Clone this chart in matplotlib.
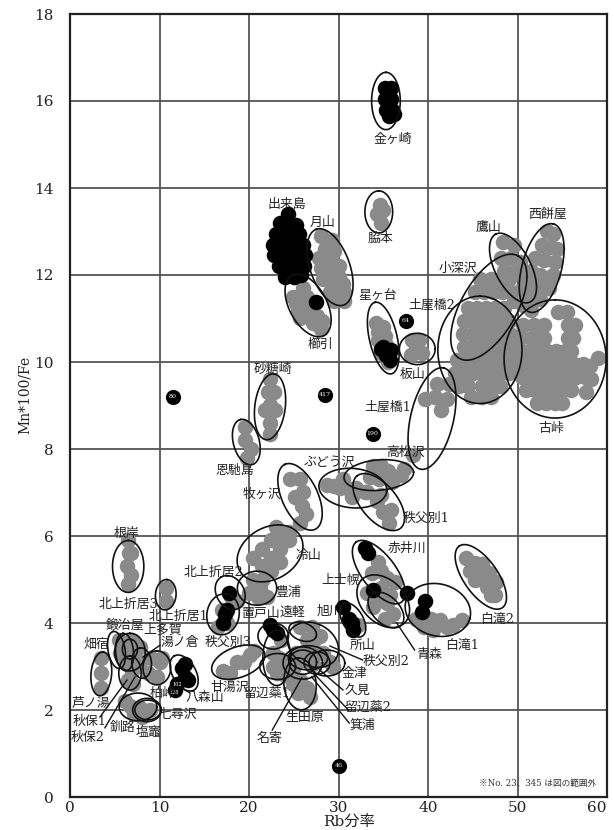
import numpy as np
import matplotlib
matplotlib.use('Agg')
import matplotlib.pyplot as plt

plt.rcParams['font.family'] = ['DejaVu Serif', 'Noto Sans CJK JP']

GRAY = '#8a8a8a'

# gray points read per source area (Rb ratio, Mn*100/Fe)
furutoge = [(54.5, 11.15), (55.5, 11.15),
            (50.6, 10.85), (51.8, 10.85), (53, 10.85), (55.6, 10.85), (56.4, 10.85),
            (50.3, 10.55), (51.5, 10.55), (52.6, 10.55), (53, 10.55), (55.6, 10.55), (56.2, 10.55),
            (50.3, 10.25), (51.3, 10.25), (52.3, 10.25), (53.3, 10.25), (54.3, 10.25), (55.3, 10.25), (56, 10.25),
            (50.3, 9.95), (51.3, 9.95), (52.3, 9.95), (53.3, 9.95), (54.3, 9.95), (55.3, 9.95), (56.3, 9.95), (57.3, 9.95),
            (50.5, 9.65), (51.5, 9.65), (52.5, 9.65), (53.5, 9.65), (54.5, 9.65), (55.5, 9.65), (56.5, 9.65), (57.5, 9.65), (58.2, 9.6),
            (51, 9.35), (52, 9.35), (53, 9.35), (54, 9.35), (55, 9.35), (56, 9.35), (57.6, 9.3),
            (52.2, 9.05), (53.2, 9.05), (54.2, 9.05), (55, 9.05), (59, 10.1), (58.1, 9.9)]
tsuchiyabashi2 = [(44.5, 11.25), (45.5, 11.25), (46.5, 11.25), (47.5, 11.25), (48.5, 11.25),
                  (44, 10.95), (45, 10.95), (46, 10.95), (47, 10.95), (48, 10.95), (49, 10.95),
                  (43.9, 10.65), (45, 10.65), (46, 10.65), (47, 10.65), (48, 10.65), (49.2, 10.65),
                  (44, 10.35), (45, 10.35), (46, 10.35), (47, 10.35), (48, 10.35), (49, 10.35), (50, 10.35),
                  (43.2, 10.05), (44.2, 10.05), (45.2, 10.05), (46.2, 10.05), (47.2, 10.05), (48.2, 10.05), (49.2, 10.05), (50, 10.05),
                  (43, 9.75), (44, 9.75), (45, 9.75), (46, 9.75), (47, 9.75), (48, 9.75), (49, 9.75),
                  (43.5, 9.45), (44.5, 9.45), (46, 9.45), (47, 9.45), (48, 9.45), (44.8, 9.2), (46, 9.2), (47, 9.2)]
kobukazawa = [(45.8, 11.9), (47, 11.9), (48, 11.9), (49, 11.9), (45.3, 11.6), (46.3, 11.6), (47.3, 11.6), (48.3, 11.6), (49.3, 11.6)]
takayama = [(48.4, 12.75), (49.6, 12.7), (48.2, 12.4), (49.3, 12.4), (50.3, 12.3), (48.5, 12.1), (49.5, 12.05), (50.5, 12),
            (50.4, 11.65), (51.2, 11.5), (49.6, 11.4), (50.6, 11.3), (51.5, 11.2)]
nishimochiya = [(53.3, 13.0), (54, 12.95), (52.7, 12.7), (53.7, 12.65), (54.4, 12.6), (52, 12.4), (53, 12.35), (54.2, 12.3),
                (51.5, 12.1), (52.5, 12), (54, 12), (53.6, 11.9), (51.5, 11.8), (52.5, 11.7), (53.5, 11.7), (52.5, 11.45)]
tsuchiyabashi1 = [(41, 9.5), (39.7, 9.15), (42.1, 9.15), (41.5, 8.9), (42.4, 9.5), (40.8, 9.2), (38.3, 7.86)]
gassan = [(28, 12.9), (29.3, 12.8), (27.8, 12.4), (29, 12.3), (30, 12.2), (28.3, 11.9), (29.5, 11.8), (30.5, 11.8), (29.5, 11.4), (30.6, 11.4),
          (28.5, 12.6), (29.5, 12.55), (28, 12.15), (29, 12.05), (30, 11.95), (30.6, 11.6), (29, 11.6)]
kushibiki = [(24.9, 11.5), (25.5, 11.2), (26.5, 11.5), (25.7, 11), (27.2, 10.9), (28, 10.75), (26.8, 11.15), (26, 11.7), (26.5, 11.3),
             (25.2, 11.35), (27.6, 11.05), (28.2, 10.95)]
hoshigadai = [(34.2, 10.9), (34.4, 10.5), (35.3, 10.4), (35, 10.8), (35.5, 10.0), (34.7, 10.2), (34.4, 10.7), (35.2, 10.6)]
itayama = [(38.7, 10.3), (38.2, 10.5), (39.3, 10.2), (38.1, 10.15), (39, 10.5)]
wakimoto = [(34.6, 13.6), (34.3, 13.4), (34.7, 13.2), (35, 13.5)]
satozaki = [(22.4, 9.6), (22.1, 9.3), (22.8, 9.3), (22.4, 9), (22.9, 8.9), (21.8, 8.9), (22.4, 8.6), (22.4, 8.35)]
onbashima = [(19.5, 8.5), (19.6, 8.2), (20.2, 8.0), (19.8, 7.8)]
makigasawa = [(24.6, 7.3), (25.7, 7.3), (25.1, 6.9), (26, 7), (26.4, 6.5), (25.7, 6.3), (25.9, 6.7)]
budozawa = [(28.7, 7.18), (30.2, 7.1), (31.5, 6.9), (32, 7.1), (30.5, 7.3), (33, 7.0), (29.5, 7.15), (31, 7.1)]
takamatsuzawa = [(33.9, 7.6), (35.5, 7.5), (37, 7.4), (34.5, 7.3), (36, 7.25), (37.3, 7.55), (34.8, 7.6), (33.5, 7.35)]
chichibubetsu1 = [(33.2, 7), (34.3, 6.8), (35, 6.55), (35.6, 6.3), (34.8, 6.95), (35.9, 6.6)]
nemuro = [(6.5, 5.9), (6.6, 5.6), (6.4, 5.3), (6.8, 5.1), (6.5, 4.9), (6.8, 5.6)]
kitakami3 = [(10.7, 4.8), (10.7, 4.5)]
hiyayama = [(20.5, 5.5), (21.5, 5.3), (22.5, 5.5), (23.5, 5.7), (24.5, 5.9), (23.5, 6.0), (22.5, 5.9), (21.5, 5.7), (21.5, 5), (22.5, 5.2), (23, 6.2), (24.5, 6.1), (23.5, 5.4)]
toyoura = [(20.5, 5), (21.5, 5), (21, 4.6), (22, 4.6), (20, 4.7), (21.2, 4.8)]
kitakami12 = [(17, 4.3), (18, 4.6), (18.7, 4.5), (16.5, 3.9), (17.5, 4)]
chichibubetsu3 = [(17.1, 2.9), (18.7, 3.1), (20.1, 3.26), (17.9, 2.85), (19.4, 3.1), (20.6, 3.35)]
rubeshibe1 = [(22.7, 3.3), (22.7, 3.0), (23.1, 2.85), (24.2, 3.1), (23.6, 3.6), (23.3, 3.2), (24, 2.8)]
asahikawa = [(25.7, 3.9), (27.9, 3.7), (28.3, 3.3), (26.5, 3.6), (27.6, 3.3), (25.2, 3.3), (27, 3.9), (27.3, 3.6), (26.4, 3.3)]
nayoro = [(24.9, 2.6), (26.8, 2.3), (25.7, 2.7), (24.3, 2.9), (26.5, 2.5), (25.5, 2.4)]
kanatsu = [(29.4, 3), (29, 3.1), (26, 3.15), (27.2, 3.05), (25, 3.0)]
ashinoyu = [(3.5, 3.2), (3.5, 2.85), (3.5, 2.5)]
west_group = [(5.9, 3.45), (6.9, 3.6), (5.6, 3.3), (7.8, 3.45), (6.5, 2.7), (7, 2.6), (10, 3.1), (9.7, 2.75), (8.7, 2.85), (10.3, 3.2),
              (7, 3.2), (6.3, 3.1), (7.8, 3.1), (9, 3.2), (6.9, 2.9), (5.5, 3.6), (7.3, 3.4)]
shiogama = [(6.7, 2.1), (7.8, 2.05), (8.9, 2), (7.2, 1.9), (6.2, 2.2), (8, 1.85)]
akaigawa = [(34.4, 5.4), (33.7, 5.15), (35.4, 5.03), (36.3, 4.94), (34.8, 5.2)]
kamishihoro = [(33.2, 4.7), (33.9, 4.37), (35.4, 4.45), (36.1, 4.2), (34.5, 4.6), (35.2, 4.1), (34.7, 4.8), (35.8, 4.65)]
shirataki1 = [(38.7, 4.1), (39.6, 3.9), (41.3, 4.07), (42.1, 3.9), (43.8, 4.07), (40.3, 4.1), (42.8, 3.95), (40.6, 3.85)]
shirataki2 = [(44.3, 5.5), (45.2, 5.37), (46, 5.1), (45.3, 5.0), (46.6, 4.83), (47.5, 4.64), (44.7, 5.2), (46.8, 5.15), (47.6, 4.95), (46, 5.35), (47, 4.65)]
tokoroyama = [(32.2, 3.95)]

gray_groups = [furutoge, tsuchiyabashi2, kobukazawa, takayama, nishimochiya, tsuchiyabashi1, gassan, kushibiki,
               hoshigadai, itayama, wakimoto, satozaki, onbashima, makigasawa, budozawa, takamatsuzawa,
               chichibubetsu1, nemuro, kitakami3, hiyayama, toyoura, kitakami12, chichibubetsu3, rubeshibe1,
               asahikawa, nayoro, kanatsu, ashinoyu, west_group, shiogama, akaigawa, kamishihoro,
               shirataki1, shirataki2, tokoroyama]

# black points
dekijima = [(24.4, 13.4), (23.5, 13.2), (24.5, 13.15), (25.3, 13.15), (23, 12.95), (23.9, 12.95), (24.8, 12.95), (25.6, 12.95),
            (22.7, 12.7), (23.6, 12.7), (24.5, 12.7), (25.4, 12.7), (26, 12.7), (22.8, 12.45), (23.7, 12.45), (24.7, 12.45), (25.6, 12.45), (26.3, 12.45),
            (23.4, 12.2), (24.3, 12.2), (25.2, 12.2), (26.2, 12.2), (24, 11.95), (25, 11.95), (25.8, 12.0)]
kanegasaki = [(35.2, 16.3), (35.9, 16.3), (35.2, 16.05), (35.9, 16.05), (35.3, 15.8), (36, 15.8), (35.6, 15.65), (36.2, 15.7)]
black_other = [(27.5, 11.38), (35, 10.35), (35.7, 10.05), (34.7, 10.3), (35.9, 10.27), (35.3, 10.15),
               (17.8, 4.7), (17.3, 4.2), (17.1, 4.0), (17.5, 4.3),
               (22.3, 3.95), (23.1, 3.77), (22.7, 3.85),
               (12.5, 2.97), (12.85, 2.76), (11.9, 2.6), (11.7, 2.45), (13.2, 2.7), (12.8, 3.05),
               (33, 5.72), (33.3, 5.6), (33.9, 4.76), (37.7, 4.7), (39.7, 4.5), (39.3, 4.25),
               (30.5, 4.37), (31.5, 4), (31.6, 3.84), (31.2, 4.1)]

# numbered samples
num_x = [11.5, 28.5, 33.8, 37.5, 30]
num_y = [9.2, 9.25, 8.35, 10.95, 0.72]
num_labels = ['80', '417', '190', '64', '46']

# ellipses: centre in data, semi axes in x units, angle on screen
ell_x = [35.3, 34.5, 29.05, 26.6, 35.0, 38.8, 40.45, 45.8, 54.2, 46.8, 49.5, 52.7, 22.35, 19.7, 25.7, 31.6, 34.5, 34.5,
         6.5, 10.7, 22.35, 20.9, 17.9, 17.1, 34.5, 35.0, 35.3, 41.1, 45.9, 31.6, 18.8, 23.1, 22.7, 25.7, 26.0, 27.15,
         23.2, 26.0, 27.6, 28.7, 26.0, 26.6, 3.5, 5.2, 6.1, 6.7, 8.0, 12.75, 9.7, 6.7, 7.6, 8.7, 8.6, 6.7]
ell_y = [16.0, 13.45, 12.18, 11.3, 10.55, 10.3, 8.7, 10.28, 10.07, 11.26, 12.16, 12.16, 8.97, 8.16, 6.9, 7.1, 7.4, 6.78,
         5.3, 4.65, 5.6, 4.8, 4.7, 4.2, 5.17, 4.5, 4.3, 4.3, 5.06, 4.07, 3.1, 3.2, 3.7, 2.6, 3.8, 3.5,
         3.0, 3.08, 3.08, 3.08, 3.1, 3.2, 2.83, 3.38, 3.33, 3.33, 3.08, 2.85, 2.97, 2.85, 2.07, 2.0, 2.0, 3.4]
ell_a = [3.2, 2.35, 4.5, 3.8, 4.1, 2.0, 5.8, 6.0, 6.6, 6.6, 4.25, 5.1, 3.7, 2.6, 4.0, 3.8, 3.9, 3.8,
         2.9, 1.7, 3.9, 2.2, 2.0, 2.3, 4.2, 3.4, 2.4, 3.7, 4.2, 2.1, 3.1, 3.1, 1.7, 2.9, 1.6, 3.0,
         2.0, 2.2, 1.45, 2.0, 1.55, 2.2, 2.45, 2.1, 2.1, 2.1, 1.7, 2.2, 1.9, 1.9, 2.1, 1.45, 1.6, 1.1]
ell_b = [1.6, 1.55, 2.2, 2.1, 1.55, 1.75, 2.4, 4.7, 5.7, 3.1, 2.0, 2.2, 1.7, 1.45, 2.0, 2.2, 1.7, 2.0,
         1.75, 1.15, 2.9, 1.9, 1.55, 1.8, 1.9, 2.4, 1.5, 2.9, 1.9, 1.15, 1.7, 1.55, 1.45, 1.8, 1.0, 2.35,
         1.45, 1.8, 1.25, 1.45, 1.35, 1.35, 1.15, 0.95, 1.0, 1.7, 1.1, 1.3, 1.55, 1.25, 1.55, 1.1, 1.3, 0.85]
ell_ang = [90, 90, 110, 118, 103, 0, 77, 90, 90, 60, 117, 75, 83, 105, 115, -5, 5, 130,
           90, 85, 30, 0, 120, 80, 127, 135, 135, -15, 125, 120, 20, 90, 0, 95, -20, -30,
           0, 0, 0, 0, 0, 0, 85, 100, 95, 90, 95, 120, 90, 90, 0, 0, 0, 90]

# leader lines, data coordinates
lead_x0 = [3.9, 3.35, 10.06, 13.4, 22.6, 32.7, 30.5, 31.1, 31.2, 38.5]
lead_y0 = [1.59, 1.84, 3.49, 2.39, 1.54, 3.15, 2.46, 2.0, 1.7, 3.38]
lead_x1 = [7.26, 6.37, 8.16, 12.3, 25.9, 29.05, 27.9, 27.2, 27.0, 36.5]
lead_y1 = [2.76, 2.69, 3.22, 2.53, 2.74, 3.47, 2.92, 2.85, 2.76, 4.0]

label_names = ['金ヶ崎', '脇本', '出来島', '月山', '櫛引', '星ヶ台', '土屋橋2', '鷹山', '西餅屋', '小深沢', '板山', '土屋橋1', '古峠',
               '砂糖崎', '恩馳島', '牧ヶ沢', 'ぶどう沢', '高松沢', '秩父別1', '根岸', '赤井川', '上士幌', '白滝2', '白滝1', '青森', '所山',
               '秩父別2', '金津', '久見', '留辺蘂2', '箕浦', '生田原', '名寄', '冷山', '豊浦', '北上折居2', '北上折居3', '北上折居1',
               '置戸山', '遠軽', '旭川', '鍛冶屋', '上多賀', '湯ノ倉', '秩父別3', '畑宿', '甘湯沢', '留辺蘂1', '柏峠', '八森山',
               '七尋沢', '塩竈', '釧路', '秋保1', '秋保2', '芦ノ湯']
label_px = [393, 380, 287, 323, 320, 378, 432, 488, 548, 458, 413, 388, 551,
            273, 235, 262, 329, 405, 426, 127, 407, 341, 497, 462, 429, 363,
            386, 354, 357, 368, 362, 305, 269, 308, 288, 213, 128, 178,
            260, 292, 330, 125, 163, 180, 228, 96, 230, 267, 162, 205,
            178, 148, 123, 90, 88, 91]
label_py = [139, 238, 204, 222, 344, 295, 305, 227, 214, 268, 374, 407, 428,
            369, 470, 494, 462, 452, 518, 533, 548, 580, 619, 645, 654, 645,
            661, 674, 690, 707, 725, 717, 738, 555, 592, 572, 604, 616,
            614, 612, 611, 625, 630, 642, 642, 644, 687, 693, 693, 697,
            714, 732, 727, 721, 737, 703]

x_ticks = [0, 10, 20, 30, 40, 50, 60]
y_ticks = [0, 2, 4, 6, 8, 10, 12, 14, 16, 18]


def draw_ellipse(ax, cx, cy, a, b, ang):
    # y is squeezed so the tilt is the one seen on the page
    t = np.linspace(0, 2 * np.pi, 120)
    th = np.radians(ang)
    x = cx + a * np.cos(t) * np.cos(th) - b * np.sin(t) * np.sin(th)
    y = cy + (a * np.cos(t) * np.sin(th) + b * np.sin(t) * np.cos(th)) * 8.95 / 43.5
    ax.plot(x, y, color='#111111', linewidth=1.2, zorder=4)


fig = plt.figure(figsize=(6.14, 8.3), dpi=100)
ax = fig.add_axes([70 / 614, 1 - 797 / 830, 537 / 614, 783 / 830])
ax.set_xlim(0, 60)
ax.set_ylim(0, 18)
ax.set_xticks(x_ticks)
ax.set_yticks(y_ticks)
ax.tick_params(length=0, labelsize=11, colors='#222222')
ax.tick_params(axis='x', pad=3)
ax.tick_params(axis='y', pad=12)
ax.get_xticklabels()[-1].set_ha('right')
ax.grid(True, color='#555555', linewidth=1.3, zorder=0)
ax.set_axisbelow(True)
for sp in ax.spines.values():
    sp.set_linewidth(1.6)
    sp.set_color('#222222')

for group in gray_groups:
    pts = np.array(group)
    ax.scatter(pts[:, 0], pts[:, 1], s=125, color=GRAY, linewidths=0, zorder=2)

for group in [dekijima, kanegasaki, black_other]:
    pts = np.array(group)
    ax.scatter(pts[:, 0], pts[:, 1], s=125, color='black', linewidths=0, zorder=3)

for cx, cy, a, b, ang in zip(ell_x, ell_y, ell_a, ell_b, ell_ang):
    draw_ellipse(ax, cx, cy, a, b, ang)

for x0, y0, x1, y1 in zip(lead_x0, lead_y0, lead_x1, lead_y1):
    ax.plot([x0, x1], [y0, y1], color='#111111', linewidth=1.0, zorder=4)

ax.scatter(num_x, num_y, s=120, color='black', linewidths=0, zorder=5)
for x, y, s in zip(num_x, num_y, num_labels):
    ax.text(x, y, s, color='white', fontsize=4.5, ha='center', va='center', zorder=6)
ax.text(11.95, 2.59, '102', color='white', fontsize=3.5, ha='center', va='center', zorder=6)
ax.text(11.7, 2.41, '128', color='white', fontsize=3.5, ha='center', va='center', zorder=6)

for name, px, py in zip(label_names, label_px, label_py):
    fig.text(px / 614, 1 - py / 830, name, fontsize=9.3, color='#222222', ha='center', va='center', zorder=7)

fig.text(538 / 614, 1 - 783 / 830, '※No. 23、345 は図の範囲外', fontsize=6.2, color='#333333', ha='center', va='center')
fig.text(349 / 614, 1 - 822 / 830, 'Rb分率', fontsize=11, color='#222222', ha='center', va='center')
fig.text(25 / 614, 1 - 395 / 830, 'Mn*100/Fe', fontsize=10, color='#222222', rotation=90, ha='center', va='center')

plt.savefig('out.png', dpi=100)
plt.close()
